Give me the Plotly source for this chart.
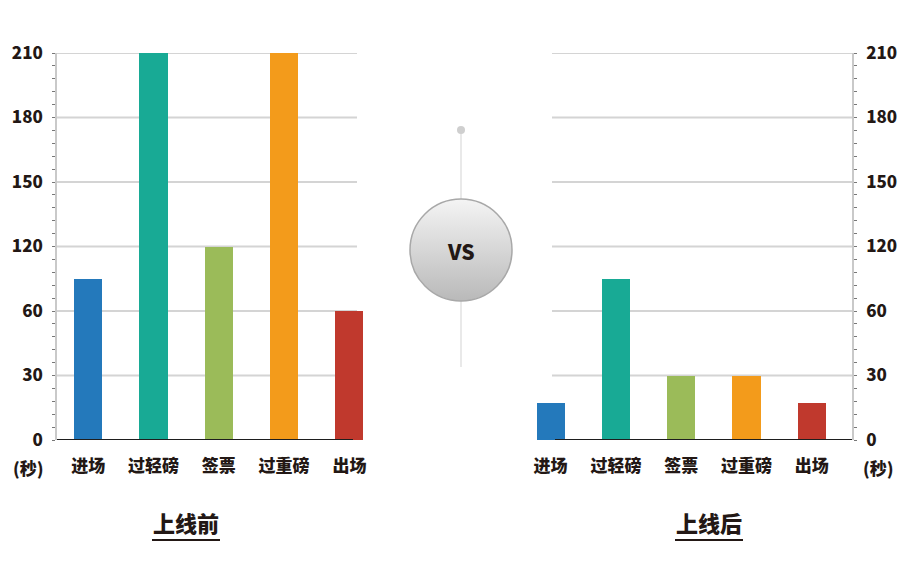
import numpy as np
import plotly.graph_objects as go

# ---------------- data ----------------
categories = ["进场", "过轻磅", "签票", "过重磅", "出场"]
before_values = [90, 210, 120, 210, 60]     # 上线前 (秒)
after_values = [17, 90, 30, 30, 17]         # 上线后 (秒)
bar_colors = ["#2479bb", "#18aa95", "#9bbb59", "#f39b1b", "#c0392d"]
tick_labels = [0, 30, 60, 120, 150, 180, 210]   # evenly spaced on the axis
unit_label = "(秒)"
title_before = "上线前"
title_after = "上线后"

# axis ticks are evenly spaced although their values are not: map values onto them
tick_pos = np.arange(len(tick_labels))
before_pos = np.interp(before_values, tick_labels, tick_pos)
after_pos = np.interp(after_values, tick_labels, tick_pos)

W, H = 900, 571
FONT = "Noto Sans CJK SC"
TXT = "#231815"
GRID = "#d4d4d4"
WEIGHT = 900

def px(x):
    return x / W

def py(y):
    return 1 - y / H

fig = go.Figure()
xs = list(range(len(categories)))

fig.add_trace(go.Bar(x=xs, y=before_pos, marker=dict(color=bar_colors, line=dict(width=0)),
                     width=0.43, xaxis="x", yaxis="y", showlegend=False,
                     customdata=before_values, hovertemplate="%{customdata}秒<extra></extra>"))
fig.add_trace(go.Bar(x=xs, y=after_pos, marker=dict(color=bar_colors, line=dict(width=0)),
                     width=0.43, xaxis="x2", yaxis="y2", showlegend=False,
                     customdata=after_values, hovertemplate="%{customdata}秒<extra></extra>"))

# VS badge (decoration)
fig.add_trace(go.Scatter(x=[461], y=[130], mode="markers", xaxis="x3", yaxis="y3",
                         marker=dict(size=8, color="#cfcfcf"), showlegend=False, hoverinfo="skip"))
fig.add_trace(go.Scatter(x=[461], y=[250], mode="markers", xaxis="x3", yaxis="y3",
                         marker=dict(size=102, color="#f4f4f4",
                                     gradient=dict(type="vertical", color="#b9b9b9"),
                                     line=dict(color="#a8a8a8", width=1.5)),
                         showlegend=False, hoverinfo="skip"))

# geometry
slope = 65.3
l_c0, r_c0 = 88.2, 550.6
l_x0, l_x1 = 57, 366
r_x0, r_x1 = 533, 852
y_bot, y_top = 440, 53

yaxis_common = dict(
    range=[0, len(tick_labels) - 1], tickvals=list(tick_pos), ticktext=[str(t) for t in tick_labels],
    domain=[py(y_bot), py(y_top)], showgrid=False, zeroline=False,
    showline=True, linecolor="#c9c9c9", linewidth=1.5,
    ticks="outside", ticklen=3, tickcolor="#777777", tickwidth=1,
    minor=dict(dtick=0.2, ticks="outside", ticklen=3, tickcolor="#777777", tickwidth=1, showgrid=False),
    tickfont=dict(family=FONT, size=17, color=TXT, weight=WEIGHT),
    ticklabelstandoff=6, fixedrange=True, automargin=False,
)
xaxis_common = dict(
    tickvals=xs, ticktext=categories, showgrid=False, zeroline=False, showline=False,
    ticks="", tickfont=dict(family=FONT, size=17, color=TXT, weight=WEIGHT),
    ticklabelstandoff=14, fixedrange=True, automargin=False,
)

fig.update_layout(
    template="none",
    width=W, height=H, autosize=False, margin=dict(l=0, r=0, t=0, b=0, pad=0),
    paper_bgcolor="white", plot_bgcolor="rgba(0,0,0,0)",
    xaxis=dict(domain=[px(l_x0), px(l_x1)], anchor="y",
               range=[(l_x0 - l_c0) / slope, (l_x1 - l_c0) / slope], **xaxis_common),
    yaxis=dict(anchor="x", side="left", **yaxis_common),
    xaxis2=dict(domain=[px(r_x0), px(r_x1)], anchor="y2",
                range=[(r_x0 - r_c0) / slope, (r_x1 - r_c0) / slope], **xaxis_common),
    yaxis2=dict(anchor="x2", side="right", **yaxis_common),
    xaxis3=dict(domain=[0, 1], range=[0, W], visible=False, anchor="y3", fixedrange=True, automargin=False),
    yaxis3=dict(domain=[0, 1], range=[H, 0], visible=False, anchor="x3", fixedrange=True, automargin=False),
    bargap=0,
)

shapes = []
# gridlines
for t in tick_pos[1:]:
    shapes.append(dict(type="line", xref="paper", yref="y", x0=px(57), x1=px(357), y0=t, y1=t,
                       line=dict(color=GRID, width=2), layer="below"))
    shapes.append(dict(type="line", xref="paper", yref="y2", x0=px(552), x1=px(852), y0=t, y1=t,
                       line=dict(color=GRID, width=2), layer="below"))
# baselines
shapes.append(dict(type="line", xref="paper", yref="y", x0=px(57), x1=px(353), y0=0, y1=0,
                   line=dict(color="#1e1e1e", width=2.2)))
shapes.append(dict(type="line", xref="paper", yref="y2", x0=px(555), x1=px(852), y0=0, y1=0,
                   line=dict(color="#1e1e1e", width=2.2)))
# center line
shapes.append(dict(type="line", xref="paper", yref="paper", x0=px(461), x1=px(461), y0=py(132), y1=py(367),
                   line=dict(color="#e2e2e2", width=1.5), layer="below"))
# title underlines
shapes.append(dict(type="line", xref="paper", yref="paper", x0=px(152), x1=px(220), y0=py(540), y1=py(540),
                   line=dict(color=TXT, width=2)))
shapes.append(dict(type="line", xref="paper", yref="paper", x0=px(675), x1=px(743), y0=py(540), y1=py(540),
                   line=dict(color=TXT, width=2)))
fig.update_layout(shapes=shapes)

ann_font = dict(family=FONT, size=17, color=TXT, weight=WEIGHT)
title_font = dict(family=FONT, size=22, color=TXT, weight=WEIGHT)

def ann(text, x, y, font):
    return dict(text=text, x=px(x), y=py(y), xref="paper", yref="paper", showarrow=False,
                xanchor="center", yanchor="middle", font=font)

fig.update_layout(annotations=[
    ann(unit_label, 28, 467, ann_font),
    ann(unit_label, 878, 467, ann_font),
    ann(title_before, 186, 522, title_font),
    ann(title_after, 709, 522, title_font),
    ann("VS", 461, 251, dict(family=FONT, size=21, color=TXT, weight=WEIGHT)),
])

fig.write_html("out.html", config={"displayModeBar": False},
               post_script="document.body.style.margin='0';document.body.style.overflow='hidden';")
